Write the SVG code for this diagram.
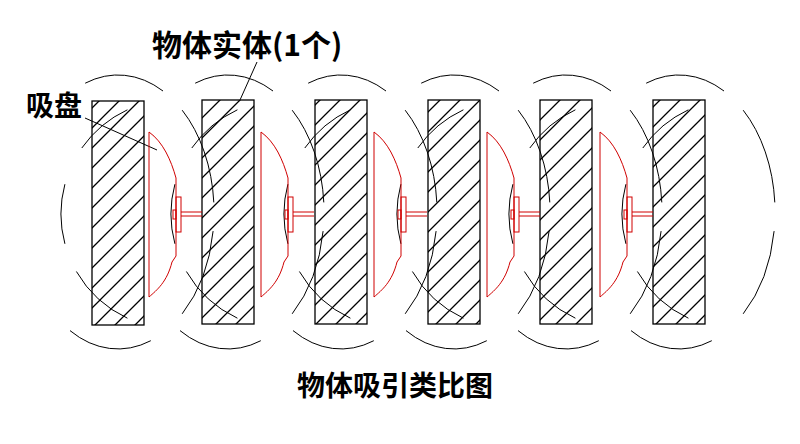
<svg xmlns="http://www.w3.org/2000/svg" width="800" height="444" viewBox="0 0 800 444">
<defs>
<pattern id="hatch" patternUnits="userSpaceOnUse" width="20" height="20">
<path d="M-5,5 L5,-5 M0,20 L20,0 M15,25 L25,15" stroke="#000" stroke-width="1.3"/>
</pattern>
<g id="arcs" fill="none" stroke="#000" stroke-width="1">
<path d="M90.2,110.2 A96,137 0 0 1 121.8,202.4 M121.1,231.1 A96,137 0 0 1 90.2,313.8"/>
<path d="M-6.8,83.2 A96,137 0 0 1 71,91"/>
<path d="M58.8,340.7 A96,137 0 0 1 -22,330.6"/>
<path d="M-27.1,243.8 A115,115 0 0 1 -27.1,184.2"/>
<path d="M35.4,318.2 A115,115 0 0 1 -15.6,271.5"/>
<path d="M-10.2,148 A115,115 0 0 1 35.4,109.8"/>
</g>
<g id="cup" fill="none" stroke="#d00000" stroke-width="1">
<path d="M0,132 L0,297 C8,290 18,282 23,262 L27,256 L27,178 C22,160 14,142 0,132 Z"/>
<rect x="27" y="197" width="5" height="35"/>
<rect x="24" y="210" width="3" height="9"/>
<path d="M32,212 H53 M32,216 H53"/>
</g>
</defs>
<style>
.ent{fill:url(#hatch);stroke:#000;stroke-width:1.3}
.t{font-family:"Noto Sans CJK SC","Noto Sans CJK JP",sans-serif;font-weight:bold;fill:#000}
</style>
<g id="connectors" fill="none" stroke="#000" stroke-width="1">
<use href="#arcs" x="92"/><use href="#arcs" x="202"/><use href="#arcs" x="315"/>
<use href="#arcs" x="428"/><use href="#arcs" x="540"/><use href="#arcs" x="653"/>
<path d="M85,118 L157,150"/>
<path d="M257,62 L240,100"/>
</g>
<g id="entity1"><rect class="ent" x="92" y="101" width="52" height="224"/></g>
<g id="entity2"><rect class="ent" x="202" y="100" width="52" height="224"/></g>
<g id="entity3"><rect class="ent" x="315" y="100" width="52" height="224"/></g>
<g id="entity4"><rect class="ent" x="428" y="100" width="52" height="224"/></g>
<g id="entity5"><rect class="ent" x="540" y="100" width="52" height="224"/></g>
<g id="entity6"><rect class="ent" x="653" y="100" width="52" height="224"/></g>
<g id="cup1"><use href="#cup" x="149"/></g>
<g id="cup2"><use href="#cup" x="261"/></g>
<g id="cup3"><use href="#cup" x="374"/></g>
<g id="cup4"><use href="#cup" x="487"/></g>
<g id="cup5"><use href="#cup" x="600"/></g>
<g id="labels">
<text class="t" x="152" y="56" font-size="30">物体实体(1个)</text>
<text class="t" x="26" y="116" font-size="28">吸盘</text>
<text class="t" x="395" y="396" font-size="28" text-anchor="middle">物体吸引类比图</text>
</g>
</svg>
